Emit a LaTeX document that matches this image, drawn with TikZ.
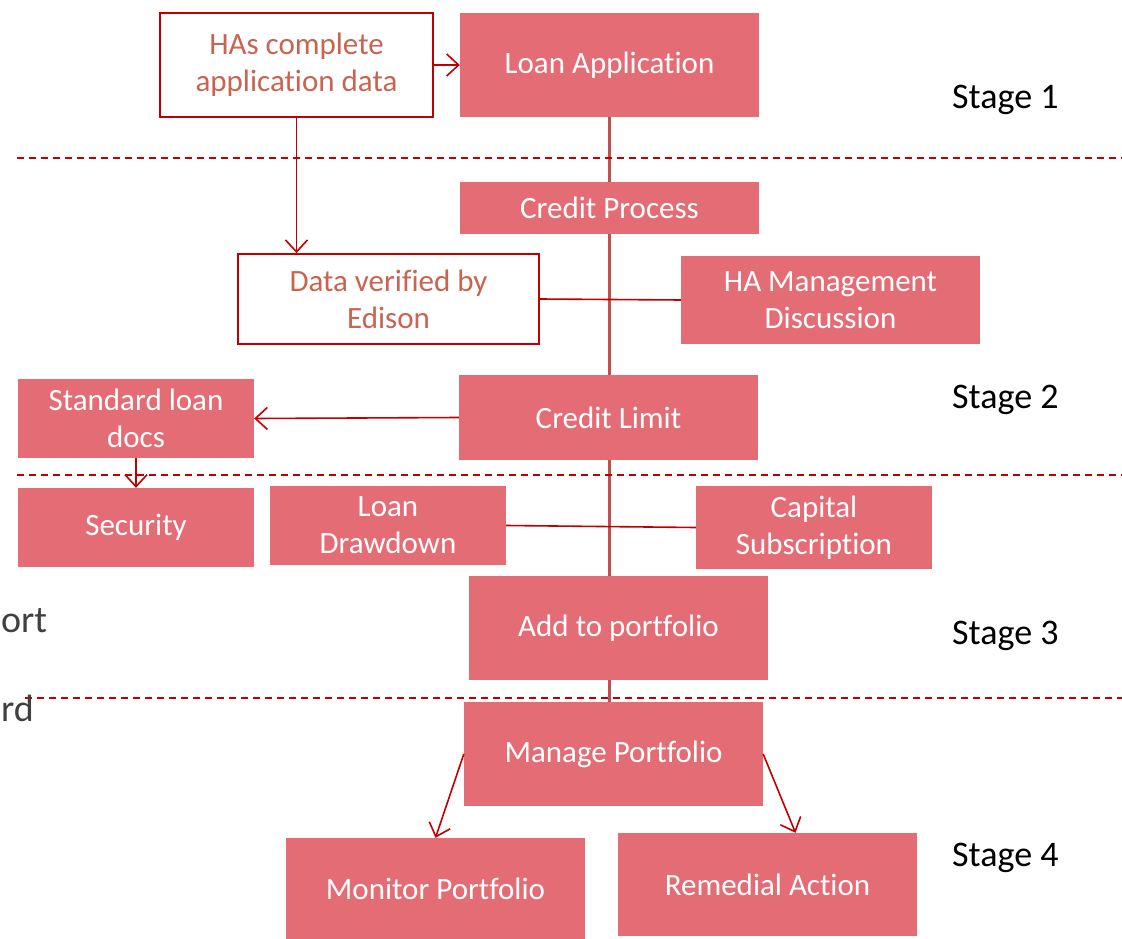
\documentclass[tikz,border=0pt]{standalone}
\usepackage{fontspec}
\setmainfont[Ligatures=NoCommon]{Carlito}
\usetikzlibrary{arrows.meta,backgrounds}

\definecolor{boxpink}{RGB}{228,108,117}
\definecolor{linered}{RGB}{192,0,0}
\definecolor{trunkred}{RGB}{192,80,77}
\definecolor{inputtext}{RGB}{200,100,80}
\definecolor{sidegrey}{RGB}{64,64,64}

\begin{document}
\begin{tikzpicture}[x=1pt,y=-1pt,
    stagebox/.style={fill=boxpink, text=white, align=center, inner sep=0pt,
      font=\fontsize{31}{37}\selectfont},
    inputbox/.style={draw=linered, line width=1.8pt, fill=white, text=inputtext,
      align=center, inner sep=0pt, font=\fontsize{31}{37}\selectfont},
    link/.style={linered, line width=1.6pt},
    flow/.style={link, -{Straight Barb[length=12pt,width=22pt]}},
    divider/.style={linered, line width=1.4pt, dash pattern=on 7pt off 5pt},
    stagelabel/.style={anchor=west, inner sep=0pt, font=\fontsize{36}{40}\selectfont},
    cuttext/.style={anchor=west, inner sep=0pt, text=sidegrey, font=\fontsize{38}{40}\selectfont}]

  \useasboundingbox (0,0) rectangle (1122,939);

  % stage dividers
  \draw[divider] (17,158) -- (1122,158);
  \draw[divider] (17,475) -- (1122,475);
  \draw[divider] (25,698) -- (1122,698);

  % stage 1
  \node[inputbox, minimum width=273pt, minimum height=104pt] (hasdata) at (296.5,65)
    {HAs complete\\application data};
  \node[stagebox, minimum width=299pt, minimum height=104pt] (loanapp) at (609.5,65)
    {Loan Application};

  % stage 2
  \node[stagebox, minimum width=299pt, minimum height=52pt] (creditproc) at (609.5,208)
    {Credit Process};
  \node[inputbox, minimum width=301pt, minimum height=90pt] (verified) at (388.5,299)
    {Data verified by\\Edison};
  \node[stagebox, minimum width=299pt, minimum height=88pt] (hamgmt) at (830.5,300)
    {HA Management\\Discussion};
  \node[stagebox, minimum width=299pt, minimum height=85pt] (creditlimit) at (608.5,417.5)
    {Credit Limit};
  \node[stagebox, minimum width=236pt, minimum height=79pt] (stddocs) at (136,418.5)
    {Standard loan\\docs};

  % stage 3
  \node[stagebox, minimum width=236pt, minimum height=79pt] (security) at (136,527.5)
    {Security};
  \node[stagebox, minimum width=236pt, minimum height=79pt] (drawdown) at (388,525.5)
    {Loan\\Drawdown};
  \node[stagebox, minimum width=236pt, minimum height=83pt] (capital) at (814,527.5)
    {Capital\\Subscription};
  \node[stagebox, minimum width=299pt, minimum height=104pt] (addport) at (618.5,628)
    {Add to portfolio};

  % stage 4
  \node[stagebox, minimum width=299pt, minimum height=104pt] (manage) at (613.5,754)
    {Manage Portfolio};
  \node[stagebox, minimum width=299pt, minimum height=101pt] (monitor) at (435.5,888.5)
    {Monitor Portfolio};
  \node[stagebox, minimum width=299pt, minimum height=103pt] (remedial) at (767.5,884.5)
    {Remedial Action};

  % stage labels
  \node[stagelabel] (stage1) at (952,100) {Stage 1};
  \node[stagelabel] (stage2) at (952,400) {Stage 2};
  \node[stagelabel] (stage3) at (952,636) {Stage 3};
  \node[stagelabel] (stage4) at (952,858) {Stage 4};
  \node[cuttext] (cutA) at (1,621) {ort};
  \node[cuttext] (cutB) at (1,708) {rd};

  % main trunk behind the boxes
  \begin{scope}[on background layer]
    \draw[trunkred, line width=3.5pt] (loanapp.south) -- (loanapp.south |- manage.north);
  \end{scope}

  % connectors
  \draw[flow] (hasdata.east) -- (loanapp.west);
  \draw[flow] (hasdata.south) -- (hasdata.south |- verified.north);
  \draw[link] (verified.east) -- (hamgmt.west);
  \draw[flow] (creditlimit.west) -- (stddocs.east);
  \draw[flow] (stddocs.south) -- (security.north);
  \draw[link] (drawdown.east) -- (capital.west);
  \draw[flow] (manage.west) -- (monitor.north);
  \draw[flow] (manage.east) -- ([xshift=28pt]remedial.north);

\end{tikzpicture}
\end{document}
